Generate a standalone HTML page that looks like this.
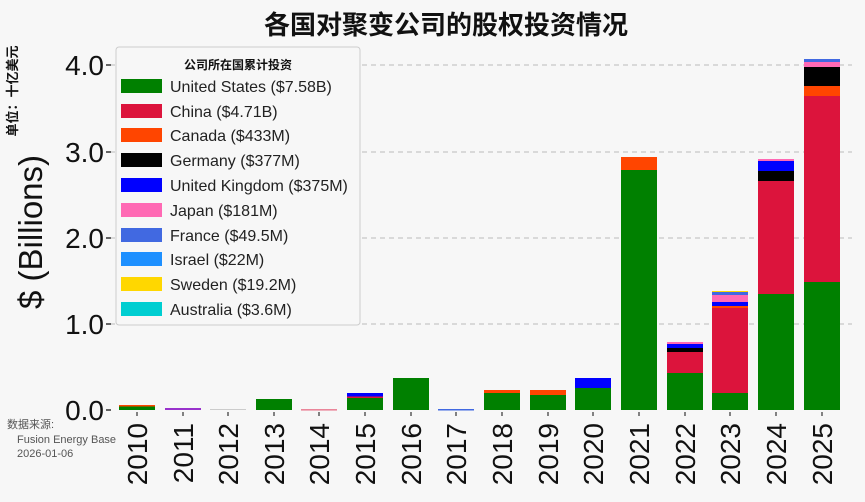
<!DOCTYPE html>
<html><head><meta charset="utf-8"><style>
body{margin:0;background:#f7f7f7}
svg{display:block;font-family:"Liberation Sans","Noto Sans CJK SC",sans-serif}
</style></head><body>
<svg width="865" height="502" viewBox="0 0 865 502">
<rect width="865" height="502" fill="#f7f7f7"/>
<text x="446" y="34" font-size="26" font-weight="bold" text-anchor="middle" fill="#111">各国对聚变公司的股权投资情况</text>
<g stroke="#bbb" stroke-dasharray="5,4" stroke-width="1">
<line x1="110" x2="852" y1="65" y2="65"/><line x1="110" x2="852" y1="152" y2="152"/>
<line x1="110" x2="852" y1="238" y2="238"/><line x1="110" x2="852" y1="324" y2="324"/>
</g>
<g font-size="28" text-anchor="end" fill="#111">
<text x="104" y="420">0.0</text><text x="104" y="334">1.0</text><text x="104" y="248">2.0</text><text x="104" y="162">3.0</text><text x="104" y="75">4.0</text>
</g>
<g stroke="#333" stroke-width="1.5"><line x1="106" x2="111" y1="410" y2="410"/><line x1="106" x2="111" y1="324" y2="324"/><line x1="106" x2="111" y1="238" y2="238"/><line x1="106" x2="111" y1="152" y2="152"/><line x1="106" x2="111" y1="65" y2="65"/></g>
<text transform="translate(42,232) rotate(-90)" font-size="33" text-anchor="middle" fill="#111">$ (Billions)</text>
<text transform="translate(17,91) rotate(-90)" font-size="13" font-weight="bold" text-anchor="middle" fill="#111">单位：十亿美元</text>
<g font-size="11" fill="#555"><text x="7" y="428">数据来源:</text><text x="17" y="443">Fusion Energy Base</text><text x="17" y="457">2026-01-06</text></g>
<g stroke="#333" stroke-width="1.2">
<line x1="137" x2="137" y1="412" y2="416"/><line x1="183" x2="183" y1="412" y2="416"/><line x1="228" x2="228" y1="412" y2="416"/><line x1="274" x2="274" y1="412" y2="416"/><line x1="319" x2="319" y1="412" y2="416"/><line x1="365" x2="365" y1="412" y2="416"/><line x1="411" x2="411" y1="412" y2="416"/><line x1="456" x2="456" y1="412" y2="416"/><line x1="502" x2="502" y1="412" y2="416"/><line x1="548" x2="548" y1="412" y2="416"/><line x1="593" x2="593" y1="412" y2="416"/><line x1="639" x2="639" y1="412" y2="416"/><line x1="685" x2="685" y1="412" y2="416"/><line x1="730" x2="730" y1="412" y2="416"/><line x1="776" x2="776" y1="412" y2="416"/><line x1="822" x2="822" y1="412" y2="416"/>
</g>
<g id="bars">
<rect x="119" y="406" width="36" height="4" fill="#008000"/><rect x="119" y="405" width="36" height="1.5" fill="#ff4500"/>
<rect x="165" y="408" width="36" height="2" fill="#9932cc"/>
<rect x="210" y="409" width="36" height="1" fill="#ccc"/>
<rect x="256" y="399" width="36" height="11" fill="#008000"/>
<rect x="301" y="409.5" width="36" height="0.8" fill="#dc143c"/>
<rect x="347" y="398" width="36" height="12" fill="#008000"/><rect x="347" y="396.5" width="36" height="1.5" fill="#dc143c"/><rect x="347" y="393" width="36" height="3.5" fill="#0000ff"/>
<rect x="393" y="378" width="36" height="32" fill="#008000"/>
<rect x="438" y="409" width="36" height="1.5" fill="#4169e1"/>
<rect x="484" y="393" width="36" height="17" fill="#008000"/><rect x="484" y="390" width="36" height="3" fill="#ff4500"/>
<rect x="530" y="395" width="36" height="15" fill="#008000"/><rect x="530" y="390" width="36" height="5" fill="#ff4500"/>
<rect x="575" y="388" width="36" height="22" fill="#008000"/><rect x="575" y="378" width="36" height="10" fill="#0000ff"/>
<rect x="621" y="170" width="36" height="240" fill="#008000"/><rect x="621" y="157" width="36" height="13" fill="#ff4500"/>
<rect x="667" y="373" width="36" height="37" fill="#008000"/><rect x="667" y="352" width="36" height="21" fill="#dc143c"/><rect x="667" y="348" width="36" height="4" fill="#000"/><rect x="667" y="344" width="36" height="4" fill="#0000ff"/><rect x="667" y="342" width="36" height="2" fill="#ff69b4"/>
<rect x="712" y="393" width="36" height="17" fill="#008000"/><rect x="712" y="308" width="36" height="85" fill="#dc143c"/><rect x="712" y="306" width="36" height="2" fill="#ff4500"/><rect x="712" y="302" width="36" height="4" fill="#0000ff"/><rect x="712" y="295" width="36" height="7" fill="#ff69b4"/><rect x="712" y="292" width="36" height="3" fill="#4169e1"/><rect x="712" y="291" width="36" height="1" fill="#ffd700"/>
<rect x="758" y="294" width="36" height="116" fill="#008000"/><rect x="758" y="181" width="36" height="113" fill="#dc143c"/><rect x="758" y="171" width="36" height="10" fill="#000"/><rect x="758" y="161" width="36" height="10" fill="#0000ff"/><rect x="758" y="159" width="36" height="2" fill="#ff69b4"/>
<rect x="804" y="282" width="36" height="128" fill="#008000"/><rect x="804" y="96" width="36" height="186" fill="#dc143c"/><rect x="804" y="86" width="36" height="10" fill="#ff4500"/><rect x="804" y="67" width="36" height="19" fill="#000"/><rect x="804" y="62" width="36" height="5" fill="#ff69b4"/><rect x="804" y="59" width="36" height="3" fill="#4169e1"/>
</g>
<g font-size="28" fill="#111" text-anchor="end">
<text transform="translate(147,423) rotate(-90)">2010</text>
<text transform="translate(193,423) rotate(-90)">2011</text>
<text transform="translate(238,423) rotate(-90)">2012</text>
<text transform="translate(284,423) rotate(-90)">2013</text>
<text transform="translate(329,423) rotate(-90)">2014</text>
<text transform="translate(375,423) rotate(-90)">2015</text>
<text transform="translate(421,423) rotate(-90)">2016</text>
<text transform="translate(466,423) rotate(-90)">2017</text>
<text transform="translate(512,423) rotate(-90)">2018</text>
<text transform="translate(558,423) rotate(-90)">2019</text>
<text transform="translate(603,423) rotate(-90)">2020</text>
<text transform="translate(649,423) rotate(-90)">2021</text>
<text transform="translate(695,423) rotate(-90)">2022</text>
<text transform="translate(740,423) rotate(-90)">2023</text>
<text transform="translate(786,423) rotate(-90)">2024</text>
<text transform="translate(832,423) rotate(-90)">2025</text>
</g>
<rect x="116" y="47" width="244" height="278" rx="3" fill="#f7f7f7" stroke="#ccc"/>
<text x="238" y="69" font-size="12" font-weight="bold" text-anchor="middle" fill="#111">公司所在国累计投资</text>
<g font-size="16" fill="#222">
<rect x="121" y="79" width="41" height="14" fill="#008000"/><text x="170" y="92">United States ($7.58B)</text>
<rect x="121" y="104" width="41" height="14" fill="#dc143c"/><text x="170" y="117">China ($4.71B)</text>
<rect x="121" y="128" width="41" height="14" fill="#ff4500"/><text x="170" y="141">Canada ($433M)</text>
<rect x="121" y="153" width="41" height="14" fill="#000"/><text x="170" y="166">Germany ($377M)</text>
<rect x="121" y="178" width="41" height="14" fill="#0000ff"/><text x="170" y="191">United Kingdom ($375M)</text>
<rect x="121" y="203" width="41" height="14" fill="#ff69b4"/><text x="170" y="216">Japan ($181M)</text>
<rect x="121" y="228" width="41" height="14" fill="#4169e1"/><text x="170" y="241">France ($49.5M)</text>
<rect x="121" y="252" width="41" height="14" fill="#1e90ff"/><text x="170" y="265">Israel ($22M)</text>
<rect x="121" y="277" width="41" height="14" fill="#ffd700"/><text x="170" y="290">Sweden ($19.2M)</text>
<rect x="121" y="302" width="41" height="14" fill="#00ced1"/><text x="170" y="315">Australia ($3.6M)</text>
</g>
</svg>
</body></html>
